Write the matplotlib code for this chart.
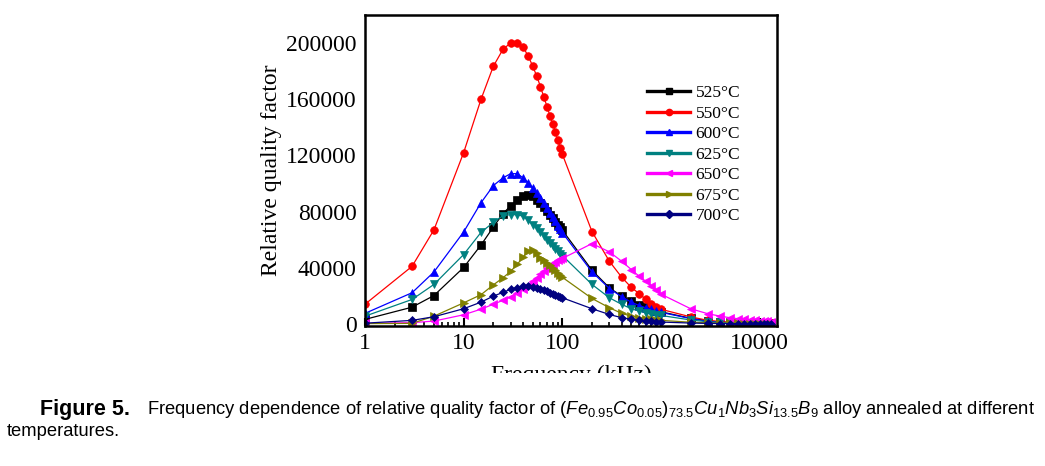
import matplotlib
matplotlib.use('Agg')
import matplotlib.pyplot as plt
from matplotlib.lines import Line2D
from matplotlib.patches import Rectangle

# frequency grid (kHz)
freq = [1, 3, 5, 10, 15, 20, 25, 30, 35, 40, 45, 50, 55, 60, 65, 70, 75, 80, 85, 90, 95, 100,
        200, 300, 400, 500, 600, 700, 800, 900, 1000,
        2000, 3000, 4000, 5000, 6000, 7000, 8000, 9000, 10000, 11000, 12000, 13000]

q525 = [3200, 11900, 20200, 40200, 56200, 69000, 78500, 84200, 88000, 90800, 91500, 90800, 88500,
        86100, 83300, 80500, 77700, 75200, 72800, 70600, 68700, 66800,
        38200, 25700, 19800, 16000, 13500, 11700, 10400, 9400, 8600,
        4000, 2200, 1400, 1000, 750, 600, 500, 430, 380, 340, 310, 290]
q550 = [14000, 41000, 67000, 122000, 160000, 183500, 195500, 200200, 200200, 197000, 191000, 183700,
        176600, 169000, 161600, 154700, 148100, 142500, 136800, 131100, 125600, 120900,
        65700, 44600, 33200, 26000, 21600, 17500, 14500, 12000, 10400,
        5000, 2500, 1600, 1100, 800, 650, 550, 480, 420, 380, 350, 320]
q600 = [7500, 22200, 37000, 65500, 86300, 98500, 104000, 107000, 107000, 104000, 100700, 96800,
        93200, 89700, 86100, 82600, 79000, 76000, 73000, 70000, 67500, 65000,
        37000, 25200, 19300, 15500, 13100, 11500, 10300, 9100, 8200,
        3800, 1800, 1100, 800, 600, 480, 400, 340, 300, 270, 240, 220]
q625 = [5500, 17400, 28100, 49400, 65200, 72300, 77100, 77800, 77800, 76700, 73700, 70700,
        68300, 65500, 62900, 60000, 57700, 55300, 53400, 51700, 50100, 48700,
        28100, 18600, 13900, 10800, 9100, 8000, 7200, 6600, 6000,
        2800, 1500, 1000, 700, 550, 450, 380, 330, 290, 260, 240, 220]
q650 = [300, 900, 2000, 6500, 10500, 14000, 16800, 19200, 22000, 24800, 27500, 30500,
        33000, 35500, 37800, 39800, 41500, 43000, 44200, 45200, 46000, 46600,
        57200, 51300, 44600, 38700, 34000, 30400, 27200, 24300, 21200,
        10800, 7200, 5500, 4400, 3700, 3200, 2800, 2500, 2200, 2000, 1800, 1600]
q675 = [200, 400, 5500, 15000, 20800, 27800, 32800, 37500, 42500, 47500, 51700, 52900,
        50600, 47000, 45200, 43500, 41700, 39900, 38200, 36400, 34600, 33200,
        18100, 11500, 7500, 5500, 4500, 3800, 3200, 2800, 2500,
        1200, 700, 500, 400, 320, 270, 230, 200, 180, 160, 150, 140]
q700 = [500, 2500, 5100, 10800, 15500, 19800, 22400, 24700, 25900, 26900, 26900, 26500,
        25900, 25200, 24300, 23300, 22300, 21500, 20700, 19900, 19200, 18600,
        10800, 6700, 4400, 3300, 2600, 2100, 1800, 1500, 1300,
        600, 350, 250, 200, 170, 150, 130, 120, 110, 100, 95, 90]

labels = ['525°C', '550°C', '600°C', '625°C', '650°C', '675°C', '700°C']
series = [q525, q550, q600, q625, q650, q675, q700]
colors = ['#000000', '#ff0000', '#0000ff', '#008080', '#ff00ff', '#808000', '#000080']
markers = ['s', 'o', '^', 'v', '<', '>', 'D']
msizes = [5.5, 5.5, 6, 6, 6, 6, 4.5]

plt.rcParams['mathtext.fontset'] = 'custom'
plt.rcParams['mathtext.it'] = 'Liberation Sans:italic'
plt.rcParams['mathtext.rm'] = 'Liberation Sans'

fig = plt.figure(figsize=(10.45, 4.66), dpi=100)
ax = fig.add_axes([365 / 1045, 1 - 326 / 466, 412 / 1045, 311 / 466])

handles = []
for y, lab, c, m, s in zip(series, labels, colors, markers, msizes):
    ax.plot(freq, y, color=c, marker=m, markersize=s, linewidth=0.9,
            markeredgewidth=0.5, markeredgecolor=c)
    handles.append(Line2D([], [], color=c, marker=m, markersize=4.5, linewidth=2.4))

ax.set_xscale('log')
ax.set_xlim(1, 15000)
ax.set_ylim(-1500, 220000)
ax.set_xticks([1, 10, 100, 1000, 10000])
ax.set_xticklabels(['1', '10', '100', '1000', '10000'])
ax.set_yticks([0, 40000, 80000, 120000, 160000, 200000])
ax.set_yticklabels(['0', '40000', '80000', '120000', '160000', '200000'])

serif = 'Liberation Serif'
for lbl in ax.get_xticklabels() + ax.get_yticklabels():
    lbl.set_fontfamily(serif)
    lbl.set_fontsize(17)
ax.tick_params(axis='x', which='major', direction='in', length=6, width=1.5, pad=5)
ax.tick_params(axis='x', which='minor', direction='in', length=3, width=1.2)
ax.tick_params(axis='y', which='both', length=0, pad=6)
for sp in ax.spines.values():
    sp.set_linewidth(1.8)

ax.set_ylabel('Relative quality factor', fontfamily=serif, fontsize=17, labelpad=3)
ax.set_xlabel('Frequency (kHz)', fontfamily=serif, fontsize=17, labelpad=8)

leg = fig.legend(handles, labels, loc='upper left', bbox_to_anchor=(647 / 1045, 1 - 85 / 466),
                 frameon=False, prop={'family': serif, 'size': 12.5}, handlelength=2.5,
                 handletextpad=0.3, labelspacing=0.25, borderpad=0, borderaxespad=0)

# white band hiding the lower part of the x label, as in the source page
fig.patches.append(Rectangle((0, 0), 1, 1 - 373 / 466, transform=fig.transFigure,
                             facecolor='white', edgecolor='none', zorder=5))

fig.text(40 / 1045, 1 - 410 / 466, 'Figure 5.', fontfamily='Liberation Sans', fontweight='bold',
         fontsize=15.5, va='center', ha='left', zorder=6)
fig.text(1035 / 1045, 1 - 410 / 466,
         r'Frequency dependence of relative quality factor of '
         r'$(Fe_{0.95}Co_{0.05})_{73.5}Cu_{1}Nb_{3}Si_{13.5}B_{9}$ alloy annealed at different',
         fontfamily='Liberation Sans', fontsize=13.2, va='center', ha='right', zorder=6)
fig.text(7 / 1045, 1 - 432 / 466, 'temperatures.', fontfamily='Liberation Sans', fontsize=13.2,
         va='center', ha='left', zorder=6)

fig.savefig('out.png', dpi=100)
